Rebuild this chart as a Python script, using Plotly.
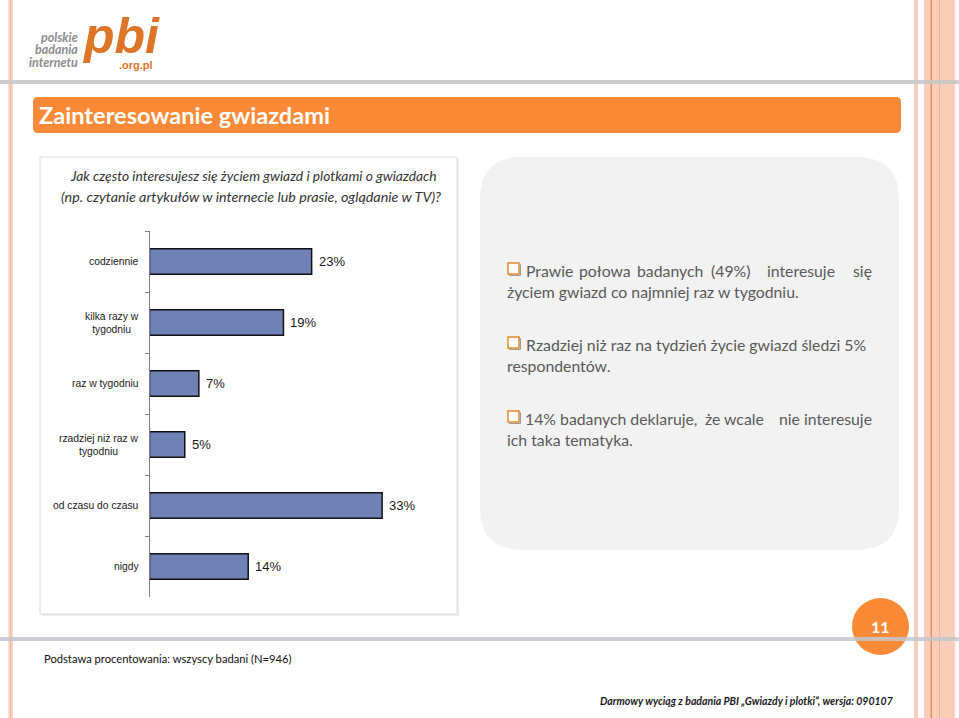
import plotly.graph_objects as go

# ---------------- data ----------------
categories = ["codziennie", "kilka razy w tygodniu", "raz w tygodniu",
              "rzadziej niż raz w tygodniu", "od czasu do czasu", "nigdy"]
category_labels = ["codziennie", "kilka razy w<br>tygodniu", "raz w tygodniu",
                   "rzadziej niż raz w<br>tygodniu", "od czasu do czasu", "nigdy"]
values = [23, 19, 7, 5, 33, 14]
value_labels = [f"{v}%" for v in values]

title_text = "Zainteresowanie gwiazdami"
question_lines = ["Jak często interesujesz się życiem gwiazd i plotkami o gwiazdach",
                  "(np. czytanie artykułów w internecie lub prasie, oglądanie w TV)?"]
bullet1_words = ["Prawie", "połowa", "badanych", "(49%)", "interesuje", "się"]
bullet1_cont = "życiem gwiazd co najmniej raz w tygodniu."
bullet2_line = "Rzadziej niż raz na tydzień życie gwiazd śledzi 5%"
bullet2_cont = "respondentów."
bullet3_words = ["14% badanych deklaruje,", "że wcale", "nie interesuje"]
bullet3_cont = "ich taka tematyka."
footer_left = "Podstawa procentowania: wszyscy badani (N=946)"
footer_right = "Darmowy wyciąg z badania PBI „Gwiazdy i plotki”, wersja: 090107"
page_number = "11"

# ---------------- helpers ----------------
W, H = 959, 718


def px(x):
    return x / W


def py(y):
    return 1 - y / H


def rrect_path(x0, y0, x1, y1, r):
    pts = [
        ("M", [(x0 + r, y0)]), ("L", [(x1 - r, y0)]), ("Q", [(x1, y0), (x1, y0 + r)]),
        ("L", [(x1, y1 - r)]), ("Q", [(x1, y1), (x1 - r, y1)]),
        ("L", [(x0 + r, y1)]), ("Q", [(x0, y1), (x0, y1 - r)]),
        ("L", [(x0, y0 + r)]), ("Q", [(x0, y0), (x0 + r, y0)]),
    ]
    s = ""
    for cmd, ps in pts:
        s += cmd + " " + " ".join(f"{px(a):.5f},{py(b):.5f}" for a, b in ps) + " "
    return s + "Z"


shapes = []
annotations = []


def rect(x0, y0, x1, y1, fill, line=None, lw=0, opacity=1.0):
    shapes.append(dict(type="rect", xref="paper", yref="paper", layer="below",
                       x0=px(x0), x1=px(x1), y0=py(y1), y1=py(y0),
                       fillcolor=fill, opacity=opacity,
                       line=dict(color=line or fill, width=lw)))


def text(x, y, s, size, color="#000", family="Lato", xanchor="left",
         yanchor="middle", align="left"):
    annotations.append(dict(xref="paper", yref="paper", x=px(x), y=py(y), text=s,
                            showarrow=False, xanchor=xanchor, yanchor=yanchor,
                            align=align, font=dict(size=size, color=color, family=family)))


# ---------------- decorations ----------------
rect(8, 0, 13, 718, "#FADACB")
rect(10, 0, 11.3, 718, "#F4B395")
rect(914, 0, 918, 718, "#F8CDB9")
rect(924, 0, 955, 718, "#F8CDB9")
rect(930.5, 0, 932, 718, "#EE8B55")
rect(939, 0, 940, 718, "#F2B195")

rect(0, 80, 959, 84, "#C8C8C8", opacity=0.9)

shapes.append(dict(type="path", xref="paper", yref="paper", layer="below",
                   path=rrect_path(33, 97, 901, 133, 5),
                   fillcolor="#FB8A36", line=dict(width=0)))

rect(42, 159, 459, 616, "#EDEDED")
rect(40, 157, 457, 614, "#FFFFFF", line="#DCDCDC", lw=1)

shapes.append(dict(type="path", xref="paper", yref="paper", layer="below",
                   path=rrect_path(480, 157, 899, 550, 42),
                   fillcolor="#F2F2F2", line=dict(width=0)))

for yy in (263, 337, 411):
    rect(509.5, yy + 1.5, 520.5, yy + 12.5, "rgba(0,0,0,0)", line="#9A9A9A", lw=1)
    rect(508, yy, 519, yy + 11, "#FFFFFF", line="#E8892C", lw=1.5)

shapes.append(dict(type="circle", xref="paper", yref="paper", layer="below",
                   x0=px(852), x1=px(909), y0=py(655), y1=py(598),
                   fillcolor="#FB8A36", line=dict(width=0)))
rect(0, 637, 959, 641, "#C3C7CC", opacity=0.85)

# ---------------- texts ----------------
text(80, 37, "<b><i>polskie</i></b>", 12.5, "#8C8C8C", xanchor="right")
text(80, 49.5, "<b><i>badania</i></b>", 12.5, "#8C8C8C", xanchor="right")
text(80, 62, "<b><i>internetu</i></b>", 12.5, "#8C8C8C", xanchor="right")
text(80, 36, "<b><i>pbi</i></b>", 50, "#DE7425", family="Liberation Sans")
text(117, 65, "<b>.org.pl</b>", 11, "#DE7425", family="Liberation Sans")

text(37, 115, f"<b>{title_text}</b>", 23.6, "#FFFFFF")

text(253, 175, f"<i>{question_lines[0]}</i>", 13.8, "#333333", xanchor="center")
text(251, 196, f"<i>{question_lines[1]}</i>", 14.3, "#333333", xanchor="center")

BC = "#595959"
BF = 15.8
b1_x = [524, 577, 635, 709, 765, 873.5]
for i, (w, x) in enumerate(zip(bullet1_words, b1_x)):
    text(x, 270, w, BF, BC, xanchor="right" if i == len(b1_x) - 1 else "left")
text(505, 291, bullet1_cont, BF, BC)
text(524, 344, bullet2_line, BF, BC)
text(505, 365, bullet2_cont, BF, BC)
b3_x = [523, 703, 873.5]
for i, (w, x) in enumerate(zip(bullet3_words, b3_x)):
    text(x, 418, w, BF, BC, xanchor="right" if i == len(b3_x) - 1 else "left")
text(505, 439, bullet3_cont, BF, BC)

text(42, 658, footer_left, 11.2, "#111111")
text(896, 701, f"<b><i>{footer_right}</i></b>", 10.5, "#1a1a1a", xanchor="right")
text(880.5, 626, f"<b>{page_number}</b>", 16, "#FFFFFF", xanchor="center")

# ---------------- chart ----------------
fig = go.Figure()
fig.add_trace(go.Bar(
    x=values, y=categories, orientation="h",
    marker=dict(color="#6E82B6", line=dict(color="#111111", width=1.5)),
    hoverinfo="skip", showlegend=False,
))

for cat, lab in zip(categories, category_labels):
    annotations.append(dict(xref="paper", yref="y", x=px(141), y=cat, text=lab,
                            showarrow=False, xanchor="right", yanchor="middle",
                            align="center",
                            font=dict(size=10.3, color="#1a1a1a", family="Liberation Sans")))
for cat, v, lab in zip(categories, values, value_labels):
    annotations.append(dict(xref="x", yref="y", x=v, y=cat, text=lab,
                            showarrow=False, xanchor="left", yanchor="middle",
                            xshift=5,
                            font=dict(size=13, color="#1a1a1a", family="Liberation Sans")))

X0 = 149.5
PPU = 7.05
XMAX = 40
fig.update_layout(
    width=W, height=H, autosize=False,
    margin=dict(l=0, r=0, t=0, b=0, pad=0),
    paper_bgcolor="#FFFFFF", plot_bgcolor="rgba(0,0,0,0)",
    bargap=0.58, showlegend=False,
    xaxis=dict(domain=[px(X0), px(X0 + PPU * XMAX)], range=[0, XMAX], visible=False,
               fixedrange=True),
    yaxis=dict(domain=[py(597), py(231)], type="category",
               categoryorder="array", categoryarray=categories,
               autorange="reversed", showticklabels=False,
               showline=True, linecolor="#808080", linewidth=1,
               ticks="outside", tickson="boundaries", ticklen=4, tickcolor="#808080",
               showgrid=False, zeroline=False, fixedrange=True),
    shapes=shapes,
    annotations=annotations,
)

fig.write_html("out.html",
               config={"displayModeBar": False, "staticPlot": True},
               post_script="document.body.style.margin='0px';"
                           "document.body.style.overflow='hidden';")
